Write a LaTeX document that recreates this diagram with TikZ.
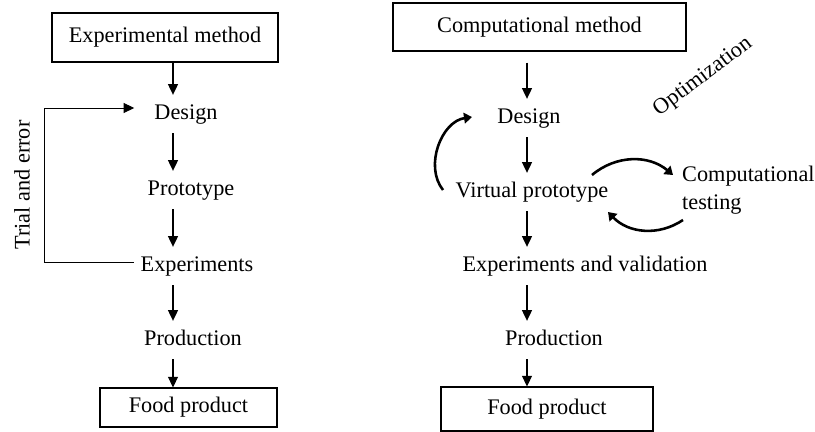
\documentclass[tikz,border=0pt]{standalone}
\usepackage{fontspec}
\setmainfont{Liberation Serif}
\usepackage{tikz}
\usetikzlibrary{positioning,arrows.meta,calc}

\begin{document}
\begin{tikzpicture}[x=0.03cm, y=0.03cm,
  font=\fontsize{19}{23.5}\selectfont,
  box/.style={draw, line width=0.9pt, inner sep=0pt},
  txt/.style={inner xsep=0pt, inner ysep=0.27cm, text height=13pt, text depth=4pt},
  arr/.style={-{Triangle[length=3.2mm, width=3mm]}, line width=0.9pt},
  loopl/.style={-{Triangle[length=3.2mm, width=3mm]}, line width=0.8pt},
  carr/.style={-{Triangle[length=2.4mm, width=3.2mm]}, line width=2.2pt}]
\useasboundingbox (0,0) rectangle (815,-432);
\coordinate (lx) at (173,0);
\coordinate (rx) at (527,0);
\coordinate (lp) at (44,0);
\node[box, minimum width=6.78cm, minimum height=1.47cm] (expm) at (165,-37.5) {Experimental method};
\node[txt] (ldes) at (186,-114) {Design};
\node[txt] (lproto) at (191,-190) {Prototype};
\node[txt] (lexp) at (197,-266) {Experiments};
\node[txt] (lprod) at (193,-340) {Production};
\node[box, minimum width=5.31cm, minimum height=1.17cm] (lfood) at (188.5,-407.5) {Food product};
\node[rotate=90] (trial) at (22,-185) {Trial and error};
\node[box, minimum width=8.79cm, minimum height=1.44cm] (comp) at (539.5,-27) {Computational method};
\node[txt] (rdes) at (529,-118) {Design};
\node[txt] (vproto) at (532,-192) {Virtual prototype};
\node[txt] (rexp) at (585,-266) {Experiments and validation};
\node[txt] (rprod) at (554,-340) {Production};
\node[box, minimum width=6.36cm, minimum height=1.32cm] (rfood) at (547,-409) {Food product};
\node[anchor=west, align=left, inner sep=0pt] (ctest) at (682,-190) {Computational\\testing};
\node[rotate=37, inner sep=0pt] (opt) at (703,-77) {Optimization};
\draw[arr] (expm.south -| lx) -- (ldes.north -| lx); \draw[arr] (ldes.south -| lx) -- (lproto.north -| lx);
\draw[arr] (lproto.south -| lx) -- (lexp.north -| lx); \draw[arr] (lexp.south -| lx) -- (lprod.north -| lx);
\draw[arr] (lprod.south -| lx) -- (lfood.north -| lx);
\draw[loopl] ($(lexp.west)+(-7,4)$) -- ($(lexp.west -| lp)+(0,4)$) |- ($(ldes.west)+(-20,6)$);
\draw[arr, shorten <=0.33cm] (comp.south -| rx) -- (rdes.north -| rx); \draw[arr] (rdes.south -| rx) -- (vproto.north -| rx);
\draw[arr] (vproto.south -| rx) -- (rexp.north -| rx); \draw[arr] (rexp.south -| rx) -- (rprod.north -| rx);
\draw[arr] (rprod.south -| rx) -- (rfood.north -| rx);
\draw[carr] ($(vproto)+(-89,2)$) to[bend left=60] ($(rdes)+(-57,1)$);
\draw[carr] ($(vproto)+(60,17)$) to[bend left=40] ($(ctest.west)+(-9,15)$);
\draw[carr] ($(ctest.west)+(1,-30)$) to[bend left=40] ($(vproto)+(76,-20)$);
\end{tikzpicture}
\end{document}
